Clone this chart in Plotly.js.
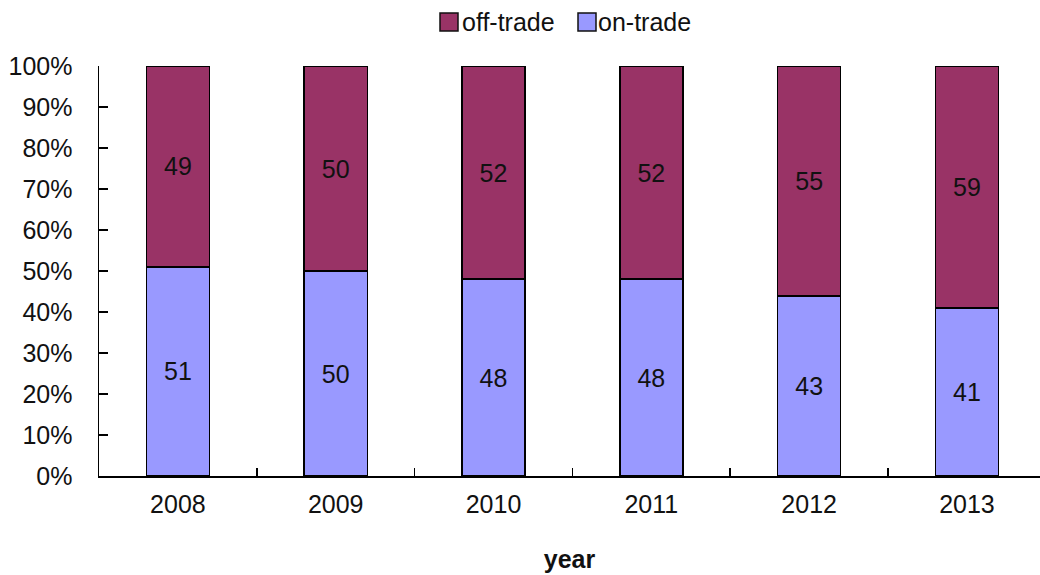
<!DOCTYPE html>
<html>
<head>
<meta charset="utf-8">
<script src="https://cdn.plot.ly/plotly-3.0.1.min.js"></script>
<style>html,body{margin:0;padding:0;background:#fff;}#chart{width:1040px;height:575px;}</style>
</head>
<body>
<div id="chart"></div>
<script>
var years = ["2008", "2009", "2010", "2011", "2012", "2013"];
var onTrade = [51, 50, 48, 48, 43, 41];
var offTrade = [49, 50, 52, 52, 55, 59];
var seriesNames = ["on-trade", "off-trade"];
var seriesColors = ["#9999FF", "#993366"];
var yTickVals = [0, 10, 20, 30, 40, 50, 60, 70, 80, 90, 100];
var yTickText = ["0%", "10%", "20%", "30%", "40%", "50%", "60%", "70%", "80%", "90%", "100%"];

var FONT = "Liberation Sans, Arial, sans-serif";
var lineStyle = {color: "#000", width: 1.5};

var traces = [
  {
    type: "bar", name: seriesNames[0], x: years, y: onTrade,
    text: onTrade.map(String), textposition: "inside", insidetextanchor: "middle",
    textangle: 0, textfont: {family: FONT, size: 25, color: "#111"},
    marker: {color: seriesColors[0], line: lineStyle}, width: 0.4, hoverinfo: "skip"
  },
  {
    type: "bar", name: seriesNames[1], x: years, y: offTrade,
    text: offTrade.map(String), textposition: "inside", insidetextanchor: "middle",
    textangle: 0, textfont: {family: FONT, size: 25, color: "#111"},
    marker: {color: seriesColors[1], line: lineStyle}, width: 0.4, hoverinfo: "skip"
  }
];

// custom legend (pixel positions converted to paper coordinates)
var L = 99, W = 941, T = 66, H = 410;
function px(x) { return (x - L) / W; }
function py(y) { return 1 + (T - y) / H; }
var legendItems = [
  {name: seriesNames[1], color: seriesColors[1], sx: 440, tx: 460},
  {name: seriesNames[0], color: seriesColors[0], sx: 578, tx: 596}
];
var shapes = [], annotations = [];
legendItems.forEach(function (it) {
  shapes.push({
    type: "rect", xref: "paper", yref: "paper",
    x0: px(it.sx), x1: px(it.sx + 18), y0: py(31), y1: py(13),
    fillcolor: it.color, line: {color: "#111", width: 1.5}
  });
  annotations.push({
    xref: "paper", yref: "paper", x: px(it.tx), y: py(22),
    xanchor: "left", yanchor: "middle", showarrow: false,
    text: it.name, font: {family: FONT, size: 25, color: "#111"}
  });
});

var layout = {
  width: 1040, height: 575,
  margin: {l: 99, r: 0, t: 66, b: 99, pad: 0},
  paper_bgcolor: "#fff", plot_bgcolor: "#fff",
  barmode: "stack", barnorm: "percent",
  font: {family: FONT, size: 25, color: "#111"},
  showlegend: false,
  shapes: shapes,
  annotations: annotations,
  xaxis: {
    type: "category", range: [-0.5, 5.463],
    showline: true, linecolor: "#000", linewidth: 1.5,
    ticks: "inside", ticklen: 8, tickcolor: "#000", tickwidth: 1.5,
    tickson: "boundaries", showgrid: false, zeroline: false,
    tickfont: {family: FONT, size: 25, color: "#111"},
    ticklabelstandoff: 5,
    title: {text: "<b>year</b>", font: {family: FONT, size: 25, color: "#111"}, standoff: 34}
  },
  yaxis: {
    range: [0, 100], tickmode: "array", tickvals: yTickVals, ticktext: yTickText,
    showline: true, linecolor: "#000", linewidth: 1.5,
    ticks: "inside", ticklen: 9, tickcolor: "#000", tickwidth: 1.5,
    showgrid: false, zeroline: false,
    tickfont: {family: FONT, size: 25, color: "#111"},
    ticklabelstandoff: 20
  }
};

Plotly.newPlot("chart", traces, layout, {staticPlot: true, displayModeBar: false});
</script>
</body>
</html>
